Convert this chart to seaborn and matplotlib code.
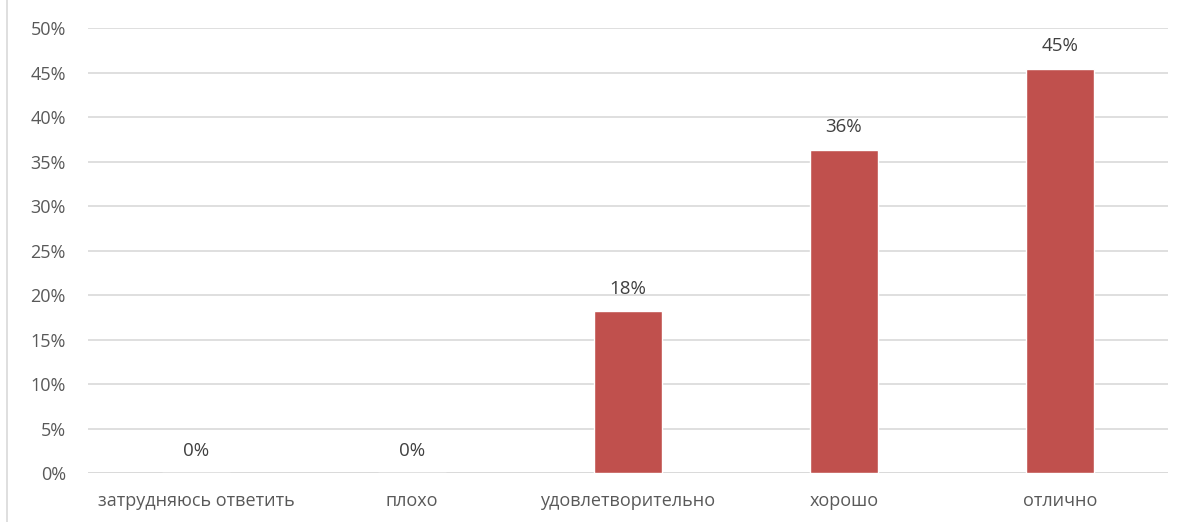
import seaborn as sns
import matplotlib.pyplot as plt
import pandas as pd
from matplotlib.lines import Line2D

categories = ["затрудняюсь ответить", "плохо", "удовлетворительно", "хорошо", "отлично"]
shares = [0.0, 0.0, 18.18, 36.36, 45.45]
labels = ["0%", "0%", "18%", "36%", "45%"]
yticks = list(range(0, 55, 5))

df = pd.DataFrame({"cat": categories, "share": shares})

sns.set_style("white")
plt.rcParams["font.family"] = ["Open Sans", "DejaVu Sans"]

fig = plt.figure(figsize=(11.82, 5.22), dpi=100)
ax = fig.add_axes([0.0745, 0.0939, 0.9135, 0.852])

sns.barplot(data=df, x="cat", y="share", color="#C0504D", width=0.315,
            saturation=1, ax=ax, zorder=3)

for i, (v, lab) in enumerate(zip(shares, labels)):
    ax.text(i, v + 1.5, lab, ha="center", va="bottom", fontsize=13.5, color="#404040")

ax.set_ylim(0, 50)
ax.set_xlim(-0.5, 4.5)
ax.set_yticks(yticks)
ax.set_yticklabels([f"{t}%" for t in yticks])
ax.yaxis.grid(True, color="#D9D9D9", linewidth=1.2, zorder=0)
ax.set_axisbelow(True)
ax.set_xlabel("")
ax.set_ylabel("")
for s in ax.spines.values():
    s.set_visible(False)
ax.axhline(0, color="#D9D9D9", linewidth=1.2, zorder=1)
ax.tick_params(axis="both", length=0, labelsize=13, labelcolor="#595959")
ax.tick_params(axis="y", pad=16)
ax.tick_params(axis="x", pad=14)

fig.add_artist(Line2D([0.0059, 0.0059], [0, 1], transform=fig.transFigure,
                      color="#D9D9D9", linewidth=1.2))

fig.savefig("out.png", dpi=100)
